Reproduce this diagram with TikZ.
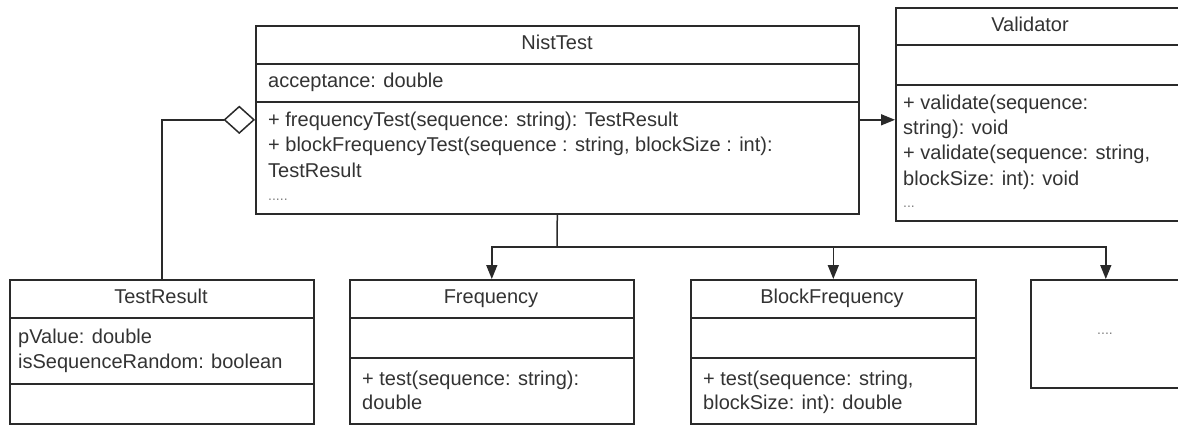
\documentclass[tikz,border=0pt]{standalone}
\usepackage{fontspec}
\setmainfont{Liberation Sans}
\usetikzlibrary{shapes.geometric,arrows.meta}
\definecolor{ln}{HTML}{2A2A2A}
\definecolor{tx}{HTML}{333333}
\begin{document}
\begin{tikzpicture}[x=1pt,y=-1pt,
  box/.style={draw=ln,line width=1.6pt,rectangle,anchor=north west,inner sep=0pt},
  div/.style={draw=ln,line width=1.3pt},
  tl/.style={anchor=base,inner sep=0pt,text=tx,font=\fontsize{20}{24}\selectfont},
  tt/.style={anchor=base west,inner sep=0pt,text=tx,font=\fontsize{20}{24}\selectfont},
  dots/.style={anchor=base west,inner sep=0pt,text=gray,font=\fontsize{14}{16}\selectfont},
  con/.style={draw=ln,line width=1.5pt},
  arr/.style={con,-{Triangle[length=14pt,width=11pt]}},
  agg/.style={draw=ln,line width=1.5pt,fill=white,diamond,shape aspect=1.1,minimum width=30pt,minimum height=27pt,inner sep=0pt}]
\useasboundingbox (0,0) rectangle (1178,425);
\clip (0,0) rectangle (1178,425);
\fill[white] (0,0) rectangle (1178,425);

% NistTest
\node[box,minimum width=603pt,minimum height=188pt] (nist) at (255,25) {};
\draw[div] (255,64) -- (858,64);
\draw[div] (255,102) -- (858,102);
\node[tl] (nistT) at (557,50) {NistTest};
\node[tt] (nistA) at (268,88) {acceptance: double};
\node[tt] (nistM1) at (268,127) {+ frequencyTest(sequence: string): TestResult};
\node[tt] (nistM2) at (268,152) {+ blockFrequencyTest(sequence : string, blockSize : int):};
\node[tt] (nistM3) at (268,177) {TestResult};
\node[dots] (nistM4) at (268,200) {.....};

% Validator
\node[box,minimum width=300pt,minimum height=213pt] (val) at (895,7) {};
\draw[div] (895,45) -- (1195,45);
\draw[div] (895,85) -- (1195,85);
\node[tl] (valT) at (1030,32) {Validator};
\node[tt] (valM1) at (903,110) {+ validate(sequence:};
\node[tt] (valM2) at (903,135) {string): void};
\node[tt] (valM3) at (903,160) {+ validate(sequence: string,};
\node[tt] (valM4) at (903,185) {blockSize: int): void};
\node[dots] (valM5) at (903,207) {...};

% TestResult
\node[box,minimum width=304pt,minimum height=144pt] (tr) at (9,279) {};
\draw[div] (9,318) -- (313,318);
\draw[div] (9,384) -- (313,384);
\node[tl] (trT) at (161,303) {TestResult};
\node[tt] (trA1) at (18,343) {pValue: double};
\node[tt] (trA2) at (18,368) {isSequenceRandom: boolean};

% Frequency
\node[box,minimum width=284pt,minimum height=144pt] (freq) at (349,279) {};
\draw[div] (349,318) -- (633,318);
\draw[div] (349,358) -- (633,358);
\node[tl] (freqT) at (491,303) {Frequency};
\node[tt] (freqM1) at (362,385) {+ test(sequence: string):};
\node[tt] (freqM2) at (362,409) {double};

% BlockFrequency
\node[box,minimum width=285pt,minimum height=144pt] (bf) at (690,279) {};
\draw[div] (690,318) -- (975,318);
\draw[div] (690,358) -- (975,358);
\node[tl] (bfT) at (832,303) {BlockFrequency};
\node[tt] (bfM1) at (703,385) {+ test(sequence: string,};
\node[tt] (bfM2) at (703,409) {blockSize: int): double};

% more
\node[box,minimum width=150pt,minimum height=108pt] (more) at (1030,279) {};
\node[anchor=center,inner sep=0pt,text=gray,font=\fontsize{14}{16}\selectfont] (moreT) at (1105,334) {....};

% connectors
\node[agg,anchor=east] (dia) at (nist.west) {};
\draw[con] (dia.west) -| (tr.north);
\draw[arr] (nist.east) -- (nist.east -| val.west);
\coordinate (j) at (557,247);
\draw[con] (nist.south) -- (j);
\draw[arr] (j) -| (freq.north);
\draw[arr] (j) -| (bf.north);
\draw[arr] (j) -| (more.north);
\end{tikzpicture}
\end{document}
